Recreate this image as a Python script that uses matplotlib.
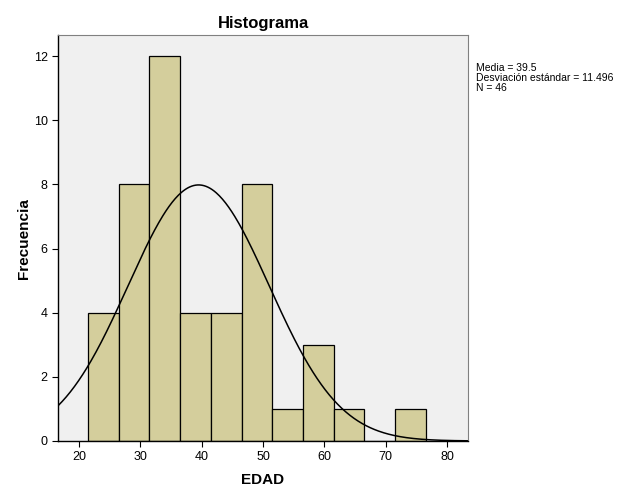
import numpy as np
import matplotlib
matplotlib.use("Agg")
import matplotlib.pyplot as plt

# -------------------------------------------------------------------
# Data
# -------------------------------------------------------------------
bin_edges = [21.5, 26.5, 31.5, 36.5, 41.5, 46.5, 51.5, 56.5, 61.5, 66.5, 71.5, 76.5]
counts = [4, 8, 12, 4, 4, 8, 1, 3, 1, 0, 1]
mean_val = 39.5
std_val = 11.496
n_val = 46

x_ticks = [20, 30, 40, 50, 60, 70, 80]
y_ticks = [0, 2, 4, 6, 8, 10, 12]

plt.rcParams["font.family"] = ["Liberation Sans", "DejaVu Sans"]

fig = plt.figure(figsize=(6.26, 5.01), dpi=100)
ax = fig.add_axes([0.0927, 0.1198, 0.655, 0.810])
ax.set_facecolor("#f0f0f0")

edges = np.array(bin_edges)
ax.bar(edges[:-1], counts, width=np.diff(edges), align="edge",
       color="#d4ce9c", edgecolor="black", linewidth=0.9)

# fitted normal curve (scaled to counts)
bw = edges[1] - edges[0]
xs = np.linspace(16.6, 83.4, 400)
ys = n_val * bw / (std_val * np.sqrt(2 * np.pi)) * np.exp(-0.5 * ((xs - mean_val) / std_val) ** 2)
ax.plot(xs, ys, color="black", linewidth=1.1)

ax.set_xlim(16.6, 83.4)
ax.set_ylim(0, 12.65)
ax.set_xticks(x_ticks)
ax.set_yticks(y_ticks)
ax.tick_params(direction="out", length=4, labelsize=9, color="black")

for side in ["top", "right"]:
    ax.spines[side].set_color("#808080")
    ax.spines[side].set_linewidth(0.8)
for side in ["left", "bottom"]:
    ax.spines[side].set_color("black")
    ax.spines[side].set_linewidth(1.0)

ax.set_title("Histograma", fontsize=12, fontweight="bold", pad=5)
ax.set_xlabel("EDAD", fontsize=11, fontweight="bold", labelpad=7)
ax.set_ylabel("Frecuencia", fontsize=11, fontweight="bold", labelpad=2)

fig.text(0.761, 0.874,
         f"Media = {mean_val}\nDesviación estándar = {std_val}\nN = {n_val}",
         fontsize=7.5, va="top", ha="left", linespacing=1.0)

fig.savefig("out.png", dpi=100)
